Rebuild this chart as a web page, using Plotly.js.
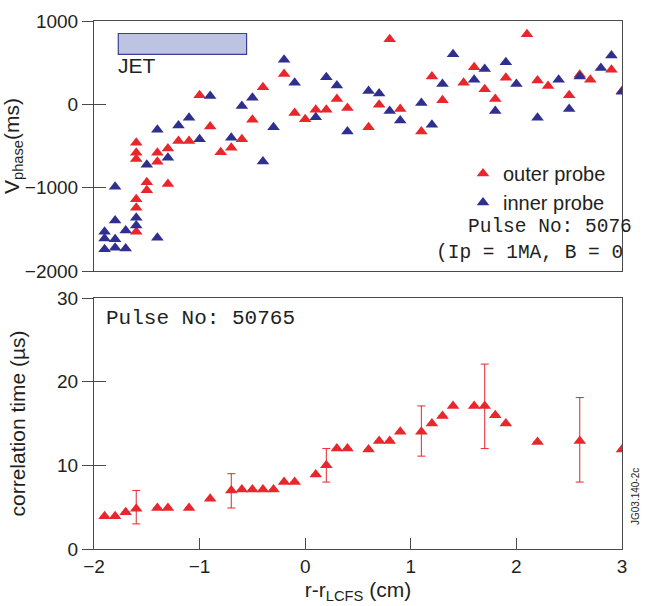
<!DOCTYPE html>
<html>
<head>
<meta charset="utf-8">
<script src="https://cdn.plot.ly/plotly-3.0.1.min.js"></script>
<style>html,body{margin:0;padding:0;background:#fff;}#chart{width:645px;height:606px;}</style>
</head>
<body>
<div id="chart"></div>
<script>
// ---- Top panel: phase velocity ----
const xOuter = [-1.6,-1.6,-1.6,-1.6,-1.6,-1.6,-1.5,-1.5,-1.4,-1.4,-1.3,-1.3,-1.2,-1.1,-1.0,-0.9,-0.8,-0.7,-0.6,-0.5,-0.4,-0.2,-0.1,0.0,0.1,0.2,0.3,0.4,0.6,0.7,0.8,0.9,1.1,1.2,1.3,1.5,1.6,1.7,1.8,1.9,2.1,2.2,2.3,2.5,2.6,2.7,2.9,3.0];
const yOuter = [-460,-580,-655,-1140,-1240,-1530,-935,-1030,-580,-690,-530,-955,-440,-440,110,-265,-575,-520,-420,-185,205,365,-105,-180,-65,-65,65,-45,-275,-5,780,-55,-325,335,50,260,445,180,65,320,840,285,220,110,355,295,415,160];
const xInner = [-1.9,-1.9,-1.9,-1.8,-1.8,-1.8,-1.8,-1.7,-1.7,-1.6,-1.6,-1.5,-1.4,-1.4,-1.3,-1.2,-1.1,-1.0,-0.9,-0.7,-0.6,-0.5,-0.4,-0.3,-0.2,-0.1,0.1,0.2,0.3,0.4,0.6,0.7,0.8,0.9,1.1,1.2,1.3,1.4,1.6,1.7,1.8,1.9,2.0,2.2,2.4,2.5,2.6,2.8,2.9,3.0];
const yInner = [-1530,-1610,-1740,-990,-1395,-1620,-1720,-1515,-1730,-1360,-1455,-725,-305,-1600,-640,-255,-160,-420,100,-400,-20,80,-685,-275,535,260,-155,325,225,-325,160,130,-80,-195,15,-245,245,600,295,425,-80,505,245,-160,295,-55,335,435,585,150];

// ---- Bottom panel: correlation time ----
const xCorr = [-1.9,-1.8,-1.7,-1.6,-1.4,-1.3,-1.1,-0.9,-0.7,-0.6,-0.5,-0.4,-0.3,-0.2,-0.1,0.1,0.2,0.3,0.4,0.6,0.7,0.8,0.9,1.1,1.2,1.3,1.4,1.6,1.7,1.8,1.9,2.2,2.6,3.0];
const yCorr = [3.9,3.9,4.4,4.8,4.9,4.9,4.9,6.0,7.0,7.1,7.1,7.1,7.1,8.0,8.0,8.9,10.0,12.0,12.0,11.9,12.9,12.9,14.0,14.0,15.0,15.9,17.1,17.1,17.1,16.0,15.0,12.8,12.9,11.9];
const errPlus  = [null,null,null,2.2,null,null,null,null,2.0,null,null,null,null,null,null,null,2.0,null,null,null,null,null,null,3.1,null,null,null,null,5.0,null,null,null,5.2,null];
const errMinus = [null,null,null,1.8,null,null,null,null,2.1,null,null,null,null,null,null,null,2.0,null,null,null,null,null,null,2.9,null,null,null,null,5.1,null,null,null,4.9,null];

// ---- Ticks / labels ----
const xTicks = [-2,-1,0,1,2,3];
const yTopTicks = [-2000,-1000,0,1000];
const yBotTicks = [0,10,20,30];
const seriesNames = ['outer probe','inner probe'];

const RED = '#e8262b', BLUE = '#2e2f8f', AX = '#4a4a4a', TXT = '#231f20';
const SANS = 'Liberation Sans, Arial, sans-serif';
const MONO = 'Liberation Mono, Courier New, monospace';
const W = 645, H = 606;
const px = v => v / W, py = v => 1 - v / H;
const xDom = [px(94), px(622)];
const tickFont = {family: SANS, size: 19, color: TXT};
const titleFont = {family: SANS, size: 21, color: TXT};
const MS = 11;

const traces = [
  {x: xOuter, y: yOuter, xaxis: 'x', yaxis: 'y', mode: 'markers', name: seriesNames[0],
   marker: {symbol: 'triangle-up', size: MS, color: RED, line: {width: 0}}},
  {x: xInner, y: yInner, xaxis: 'x', yaxis: 'y', mode: 'markers', name: seriesNames[1],
   marker: {symbol: 'triangle-up', size: MS, color: BLUE, line: {width: 0}}},
  {x: xCorr, y: yCorr, xaxis: 'x2', yaxis: 'y2', mode: 'markers', showlegend: false,
   marker: {symbol: 'triangle-up', size: MS, color: RED, line: {width: 0}},
   error_y: {type: 'data', symmetric: false, array: errPlus, arrayminus: errMinus,
             color: RED, thickness: 1, width: 4}},
  // empty carriers so the overlay axes (outer tick halves + labels) are drawn
  {x: [], y: [], xaxis: 'x', yaxis: 'y3', mode: 'markers', showlegend: false, hoverinfo: 'skip'},
  {x: [], y: [], xaxis: 'x2', yaxis: 'y4', mode: 'markers', showlegend: false, hoverinfo: 'skip'}
];

const baseAx = {showgrid: false, zeroline: false, showline: true, mirror: true,
                linecolor: AX, linewidth: 1, tickcolor: AX, tickwidth: 1, fixedrange: true};
const overlayAx = {showgrid: false, zeroline: false, showline: false, ticks: 'outside',
                   ticklen: 11, tickcolor: AX, tickwidth: 1, tickfont: tickFont,
                   automargin: false, fixedrange: true, side: 'left'};

const layout = {
  width: W, height: H,
  margin: {l: 0, r: 0, t: 0, b: 0},
  paper_bgcolor: '#fff', plot_bgcolor: 'rgba(0,0,0,0)',
  font: {family: SANS, color: TXT},
  showlegend: true,
  legend: {x: px(463), y: py(154), xanchor: 'left', yanchor: 'top',
           bgcolor: 'rgba(0,0,0,0)', font: {family: SANS, size: 20},
           itemwidth: 30, tracegroupgap: 0},
  xaxis: Object.assign({}, baseAx, {domain: xDom, range: [-2, 3], anchor: 'y',
          ticks: '', showticklabels: false}),
  yaxis: Object.assign({}, baseAx, {domain: [py(271), py(21)], range: [-2000, 1000], anchor: 'x',
          tickvals: yTopTicks, ticks: 'inside', ticklen: 12, showticklabels: false}),
  yaxis3: Object.assign({}, overlayAx, {overlaying: 'y', anchor: 'x', range: [-2000, 1000],
          tickvals: yTopTicks, title: {text: 'V<sub>phase</sub>(ms)', font: titleFont, standoff: 5}}),
  xaxis2: Object.assign({}, baseAx, {domain: xDom, range: [-2, 3], anchor: 'y2',
          tickvals: xTicks, ticks: 'inside', ticklen: 11, tickfont: tickFont,
          title: {text: 'r-r<sub>LCFS</sub> (cm)', font: titleFont, standoff: 6}}),
  yaxis2: Object.assign({}, baseAx, {domain: [py(549), py(298)], range: [0, 30], anchor: 'x2',
          tickvals: yBotTicks, ticks: 'inside', ticklen: 12, showticklabels: false}),
  yaxis4: Object.assign({}, overlayAx, {overlaying: 'y2', anchor: 'x2', range: [0, 30],
          tickvals: yBotTicks, title: {text: 'correlation time (µs)', font: titleFont, standoff: 25}}),
  shapes: [
    {type: 'rect', xref: 'x', yref: 'y', x0: -1.77, x1: -0.555, y0: 600, y1: 850,
     fillcolor: '#bcc4e2', line: {color: '#3b3f9a', width: 1.2}}
  ],
  annotations: [
    {xref: 'paper', yref: 'paper', x: px(116), y: py(66), xanchor: 'left', yanchor: 'middle',
     text: 'JET', showarrow: false, font: {family: SANS, size: 21, color: TXT}},
    {xref: 'paper', yref: 'paper', x: px(466), y: py(227), xanchor: 'left', yanchor: 'middle',
     text: 'Pulse No: 5076', showarrow: false, font: {family: MONO, size: 19.5, color: TXT}},
    {xref: 'paper', yref: 'paper', x: px(434), y: py(253), xanchor: 'left', yanchor: 'middle',
     text: '(Ip = 1MA, B = 0', showarrow: false, font: {family: MONO, size: 19.5, color: TXT}},
    {xref: 'paper', yref: 'paper', x: px(104), y: py(318), xanchor: 'left', yanchor: 'middle',
     text: 'Pulse No: 50765', showarrow: false, font: {family: MONO, size: 21, color: TXT}},
    {xref: 'paper', yref: 'paper', x: px(635), y: py(497), xanchor: 'center', yanchor: 'middle',
     text: 'JG03.140-2c', textangle: -90, showarrow: false, font: {family: SANS, size: 10, color: TXT}}
  ]
};

Plotly.newPlot('chart', traces, layout, {displayModeBar: false, staticPlot: true});
</script>
</body>
</html>
